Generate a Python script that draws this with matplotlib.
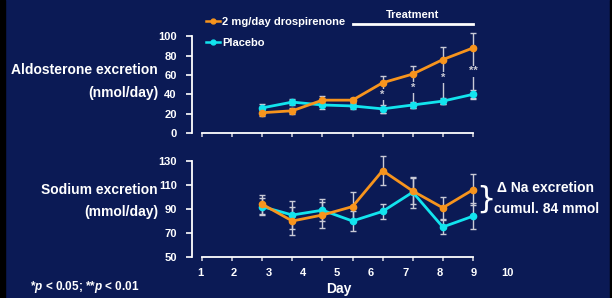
import matplotlib
matplotlib.use("Agg")
import matplotlib.pyplot as plt
from matplotlib.lines import Line2D
from matplotlib.patches import Rectangle

# tick positions (day index on the axis) where the points sit
days = [3, 4, 5, 6, 7, 8, 9, 10]
day_labels = ["1", "2", "3", "4", "5", "6", "7", "8", "9", "10"]

# aldosterone excretion (nmol/day)
aldo_drsp = [21, 23, 34, 34, 52, 61, 76, 88]
aldo_drsp_lo = [3, 3, 4, 2, 31, 35, 46, 52]
aldo_drsp_hi = [3, 3, 4, 2, 7, 8, 13, 16]
aldo_plac = [26, 32, 29, 28, 25, 29, 33, 40]
aldo_plac_err = [4, 3.5, 4, 3, 4, 3, 3, 4.5]
sig_days = [7, 8, 9, 10]
sig_marks = ["*", "*", "*", "**"]
sig_y = [40, 47, 57, 64]

# sodium excretion (mmol/day)
na_drsp = [94, 80, 85, 92, 122, 105, 91, 106]
na_drsp_err = [8, 12, 11, 12, 12, 11, 9, 13]
na_plac = [92, 85, 89, 80, 88, 104, 75, 84]
na_plac_err = [7, 12, 9, 8, 6, 13, 6, 11]

BG = "#0B1A55"
ORANGE = "#F7941D"
CYAN = "#12E4EE"
ERR = "#C9CAD6"
FONT = "Liberation Sans"

plt.rcParams["font.family"] = FONT
plt.rcParams["font.weight"] = "bold"
plt.rcParams["mathtext.fontset"] = "custom"
plt.rcParams["mathtext.it"] = "Liberation Sans:italic:bold"
plt.rcParams["mathtext.rm"] = "Liberation Sans:bold"

W, H = 612, 298
fig = plt.figure(figsize=(W / 100, H / 100), dpi=100, facecolor=BG)
fig.patches.append(Rectangle((0, 0), 5 / W, 1, transform=fig.transFigure,
                             color="black", zorder=0))
fig.patches.append(Rectangle((1 - 2 / W, 0), 2 / W, 1, transform=fig.transFigure,
                             color="black", zorder=0))

px_per_day = 30.1
x0 = 1 - 10 / px_per_day
x1 = 10 + 8 / px_per_day
ax_w = (x1 - x0) * px_per_day


def style_axes(ax, ylo, yhi, yticks):
    ax.set_facecolor("none")
    for s in ["top", "right"]:
        ax.spines[s].set_visible(False)
    for s in ["left", "bottom"]:
        ax.spines[s].set_color("white")
        ax.spines[s].set_linewidth(1.3)
    ax.spines["left"].set_bounds(ylo, yhi)
    ax.spines["bottom"].set_bounds(1, 10)
    ax.spines["bottom"].set_position(("data", ylo))
    ax.set_xlim(x0, x1)
    ax.set_xticks(range(1, 11))
    ax.set_yticks(yticks)
    ax.tick_params(axis="y", colors="white", length=4, width=1.2,
                   labelsize=8, pad=7)
    ax.tick_params(axis="x", colors=ERR, length=3, width=1.2, labelbottom=False)


def draw_series(ax, y, err, color):
    ax.errorbar(days, y, yerr=err, fmt="none", ecolor=ERR, elinewidth=1,
                capsize=2, capthick=1, zorder=2, clip_on=False)
    ax.plot(days, y, color=color, lw=2, marker="o", ms=4.5, zorder=3,
            clip_on=False)


# top panel: aldosterone
top_ppu = 0.966
ax1 = fig.add_axes([192 / W, (H - 133) / H, ax_w / W, 112 * top_ppu / H])
ax1.set_ylim(0, 112)
style_axes(ax1, 0, 100, range(0, 101, 20))
draw_series(ax1, aldo_plac, aldo_plac_err, CYAN)
draw_series(ax1, aldo_drsp, [aldo_drsp_lo, aldo_drsp_hi], ORANGE)
for d, m, yv in zip(sig_days, sig_marks, sig_y):
    ax1.text(d, yv, m, color=ERR, fontsize=8, ha="center", va="center",
             zorder=4, bbox=dict(boxstyle="square,pad=0.05", fc=BG, ec="none"))

ax1.plot([6, 10], [113, 113], color="white", lw=2, clip_on=False)
ax1.text(8, 122, "Treatment", color="white", fontsize=8, ha="center",
         va="center")

handles = [Line2D([], [], color=ORANGE, lw=1.8, marker="o", ms=3.5),
           Line2D([], [], color=CYAN, lw=1.8, marker="o", ms=3.5)]
fig.legend(handles, ["2 mg/day drospirenone", "Placebo"],
           loc="upper left", bbox_to_anchor=(206 / W, 1 - 17 / H),
           frameon=False, fontsize=8, labelcolor="white",
           handlelength=1.3, handletextpad=0.15, labelspacing=0.95,
           borderpad=0, borderaxespad=0)

fig.text(158 / W, 1 - 70 / H, "Aldosterone excretion", color="white",
         fontsize=10, ha="right", va="center")
fig.text(158 / W, 1 - 93 / H, "(nmol/day)", color="white",
         fontsize=10, ha="right", va="center")

# bottom panel: sodium
bot_ppu = 1.2
ax2 = fig.add_axes([192 / W, (H - 257) / H, ax_w / W, 90 * bot_ppu / H])
ax2.set_ylim(50, 140)
style_axes(ax2, 50, 130, range(50, 131, 20))
draw_series(ax2, na_plac, na_plac_err, CYAN)
draw_series(ax2, na_drsp, na_drsp_err, ORANGE)

# day labels are spread a bit wider than the ticks in the original slide
label_step = 34.2 / px_per_day
for i, lab in enumerate(day_labels):
    ax2.text(1 + i * label_step - 2 / px_per_day, 36.5, lab, color="white",
             fontsize=8, ha="center", va="center")
fig.text(339 / W, 1 - 289 / H, "Day", color="white", fontsize=10,
         ha="center", va="center")

fig.text(158 / W, 1 - 190 / H, "Sodium excretion", color="white",
         fontsize=10, ha="right", va="center")
fig.text(158 / W, 1 - 212 / H, "(mmol/day)", color="white",
         fontsize=10, ha="right", va="center")

fig.text(486 / W, 1 - 199 / H, "}", color="white", fontsize=22,
         fontweight="normal", family="DejaVu Sans", ha="center", va="center")
fig.text(497 / W, 1 - 188 / H, "\u0394 Na excretion", color="white",
         fontsize=10, ha="left", va="center")
fig.text(494 / W, 1 - 209 / H, "cumul. 84 mmol", color="white",
         fontsize=10, ha="left", va="center")

fig.text(30 / W, 1 - 287 / H, r"*$\mathit{p}$ < 0.05; **$\mathit{p}$ < 0.01",
         color="white", fontsize=8.5, ha="left", va="center")

fig.savefig("out.png", dpi=100, facecolor=BG)
